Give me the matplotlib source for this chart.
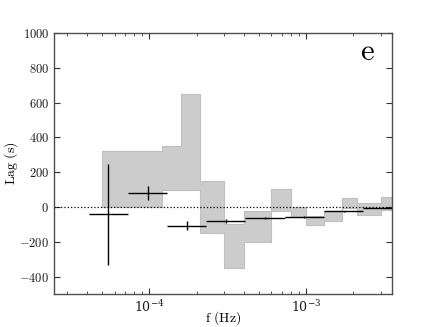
import numpy as np
import matplotlib
matplotlib.use('Agg')
import matplotlib.pyplot as plt
from matplotlib.ticker import FuncFormatter, MultipleLocator, LogLocator

plt.rcParams['mathtext.fontset'] = 'cm'
plt.rcParams['font.family'] = 'serif'

# gray band: frequency bin edges (Hz) and upper / lower lag (s)
band_edges = [5e-5, 1.2e-4, 1.6e-4, 2.1e-4, 3e-4, 4e-4, 6e-4, 8e-4, 1e-3,
              1.3e-3, 1.7e-3, 2.1e-3, 3e-3, 4e-3]
band_hi = [323, 350, 650, 149, -98, -23, 102, 0, -52, -23, 50, 22, 55]
band_lo = [0, 100, 100, -150, -350, -200, -23, -55, -102, -78, -8, -48, -15]

# measured lags: bin edges (Hz), lag (s), error (s)
lag_edges = [4.1e-5, 7.3e-5, 1.3e-4, 2.31e-4, 4.1e-4, 7.3e-4, 1.3e-3,
             2.31e-3, 4.1e-3]
lag = [-43, 79, -107, -79, -65, -57, -25, -3]
lag_err = [290, 40, 24, 12, 6, 5, 4, 5]

fig = plt.figure(figsize=(4.36, 3.27), dpi=100)
ax = fig.add_axes([0.124, 0.101, 0.775, 0.798])

hi = band_hi + [band_hi[-1]]
lo = band_lo + [band_lo[-1]]
ax.fill_between(band_edges, lo, hi, step='post', facecolor='0.8',
                edgecolor='0.75', linewidth=0.8)

e = np.array(lag_edges)
fc = np.sqrt(e[:-1] * e[1:])
xerr = [fc - e[:-1], e[1:] - fc]
ax.errorbar(fc, lag, yerr=lag_err, xerr=xerr, fmt='none', ecolor='k',
            elinewidth=1.0, capsize=0)

ax.axhline(0, color='k', ls=':', lw=0.9)

ax.set_xscale('log')
ax.set_xlim(2.47e-5, 3.52e-3)
ax.set_ylim(-500, 1000)
ax.yaxis.set_major_locator(MultipleLocator(200))
ax.yaxis.set_major_formatter(FuncFormatter(lambda v, p: r'$%d$' % v))
ax.xaxis.set_major_locator(LogLocator(base=10))
ax.xaxis.set_minor_locator(LogLocator(base=10, subs=np.arange(2, 10)))

ax.tick_params(which='both', direction='in', top=True, right=True,
               labelsize=9, color='0.2', labelcolor='0.1')
ax.tick_params(which='major', length=4, width=0.8)
ax.tick_params(which='minor', length=2, width=0.6)
for s in ax.spines.values():
    s.set_color('0.3')
    s.set_linewidth(1.0)

ax.set_xlabel(r'$\mathrm{f\ (Hz)}$', fontsize=10)
ax.set_ylabel(r'$\mathrm{Lag\ (s)}$', fontsize=10)
ax.xaxis.set_label_coords(0.5, -0.058)
ax.yaxis.set_label_coords(-0.10, 0.5)
ax.text(0.95, 0.93, r'$\mathrm{e}$', transform=ax.transAxes, fontsize=22,
        ha='right', va='center')

fig.savefig('out.png', dpi=100)
